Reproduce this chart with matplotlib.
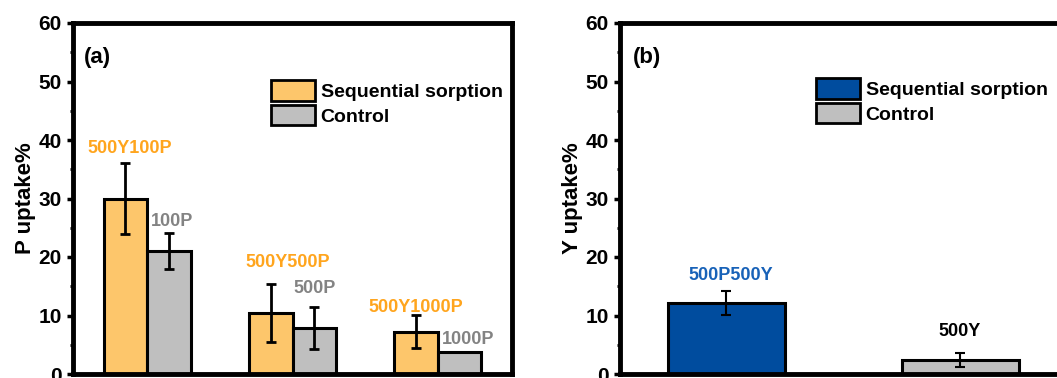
import numpy as np
import matplotlib.pyplot as plt
from matplotlib.patches import Patch

plt.rcParams['font.family'] = ['Liberation Sans', 'DejaVu Sans']
plt.rcParams['font.weight'] = 'bold'

# panel (a): P uptake
a_groups = [1, 2, 3]
a_seq = [30.0, 10.4, 7.25]
a_seq_err = [6.0, 5.0, 2.85]
a_ctrl = [21.0, 7.9, 3.7]
a_ctrl_err = [3.1, 3.6, 0.0]
a_seq_labels = ['500Y100P', '500Y500P', '500Y1000P']
a_ctrl_labels = ['100P', '500P', '1000P']

# panel (b): Y uptake
b_pos = [1, 2]
b_vals = [12.15, 2.4]
b_err = [2.05, 1.2]
b_labels = ['500P500Y', '500Y']

orange = '#FDC66B'
orange_txt = '#FFA51E'
grey = '#BFBFBF'
grey_txt = '#838383'
blue = '#004C9E'
blue_txt = '#1862B8'

fig = plt.figure(figsize=(10.57, 3.78), dpi=100)
ax1 = fig.add_axes([73 / 1057, 4 / 378, 439 / 1057, 351 / 378])
ax2 = fig.add_axes([620 / 1057, 4 / 378, 439 / 1057, 351 / 378])

w = 0.30
x = np.array(a_groups)
ax1.bar(x - w / 2, a_seq, w, color=orange, edgecolor='black', linewidth=2.2, zorder=2)
ax1.bar(x + w / 2, a_ctrl, w, color=grey, edgecolor='black', linewidth=2.2, zorder=2)
ax1.errorbar(x - w / 2, a_seq, yerr=a_seq_err, fmt='none', ecolor='black',
             elinewidth=2, capsize=3.5, capthick=2, zorder=3)
ax1.errorbar(x + w / 2, a_ctrl, yerr=a_ctrl_err, fmt='none', ecolor='black',
             elinewidth=2, capsize=3.5, capthick=2, zorder=3)

# label offsets (x shift, height above error bar)
seq_off = [(0.03, 2.6), (0.12, 3.7), (0.0, 1.35)]
ctrl_off = [(0.02, 1.9), (0.0, 3.2), (0.06, 2.2)]
for i in range(3):
    dx, dy = seq_off[i]
    ax1.text(x[i] - w / 2 + dx, a_seq[i] + a_seq_err[i] + dy, a_seq_labels[i],
             color=orange_txt, fontsize=13, fontweight='bold', ha='center', va='center')
    dx, dy = ctrl_off[i]
    ax1.text(x[i] + w / 2 + dx, a_ctrl[i] + a_ctrl_err[i] + dy, a_ctrl_labels[i],
             color=grey_txt, fontsize=13, fontweight='bold', ha='center', va='center')
ax1.set_xlim(0.49, 3.51)
ax1.set_ylabel('P uptake%', fontsize=16, fontweight='bold', labelpad=2)
ax1.text(0.025, 0.903, '(a)', transform=ax1.transAxes, fontsize=16, fontweight='bold',
         ha='left', va='center')
ax1.legend(handles=[Patch(facecolor=orange, edgecolor='black', linewidth=2, label='Sequential sorption'),
                    Patch(facecolor=grey, edgecolor='black', linewidth=2, label='Control')],
           loc='upper left', bbox_to_anchor=(271 / 1057, 1 - 80 / 378), bbox_transform=fig.transFigure,
           frameon=False, borderpad=0, borderaxespad=0, handlelength=2.25,
           handleheight=1.25, handletextpad=0.3, labelspacing=0.2, prop={'weight': 'bold', 'size': 14})

bw = 0.50
ax2.bar(b_pos, b_vals, bw, color=[blue, grey], edgecolor='black', linewidth=2.2, zorder=2)
ax2.errorbar(b_pos, b_vals, yerr=b_err, fmt='none', ecolor='black',
             elinewidth=1.5, capsize=3.5, capthick=1.5, zorder=3)
b_off = [(0.02, 2.7), (0.0, 3.6)]
b_cols = [blue_txt, 'black']
for i in range(2):
    dx, dy = b_off[i]
    ax2.text(b_pos[i] + dx, b_vals[i] + b_err[i] + dy, b_labels[i], color=b_cols[i],
             fontsize=13, fontweight='bold', ha='center', va='center')
ax2.set_xlim(0.547, 2.423)
ax2.set_ylabel('Y uptake%', fontsize=16, fontweight='bold', labelpad=2)
ax2.text(0.03, 0.903, '(b)', transform=ax2.transAxes, fontsize=16, fontweight='bold',
         ha='left', va='center')
ax2.legend(handles=[Patch(facecolor=blue, edgecolor='black', linewidth=2, label='Sequential sorption'),
                    Patch(facecolor=grey, edgecolor='black', linewidth=2, label='Control')],
           loc='upper left', bbox_to_anchor=(816 / 1057, 1 - 78 / 378), bbox_transform=fig.transFigure,
           frameon=False, borderpad=0, borderaxespad=0, handlelength=2.25,
           handleheight=1.25, handletextpad=0.3, labelspacing=0.2, prop={'weight': 'bold', 'size': 14})

for ax in (ax1, ax2):
    ax.set_ylim(0, 60)
    ax.set_yticks(range(0, 61, 10))
    ax.set_yticks(range(5, 60, 10), minor=True)
    ax.set_xticks([])
    for s in ax.spines.values():
        s.set_linewidth(3.5)
    ax.tick_params(axis='y', which='major', direction='out', length=4, width=2.5,
                   labelsize=15, pad=4)
    ax.tick_params(axis='y', which='minor', direction='out', length=2, width=2)
    for lab in ax.get_yticklabels():
        lab.set_fontweight('bold')

fig.savefig('out.png', dpi=100)
